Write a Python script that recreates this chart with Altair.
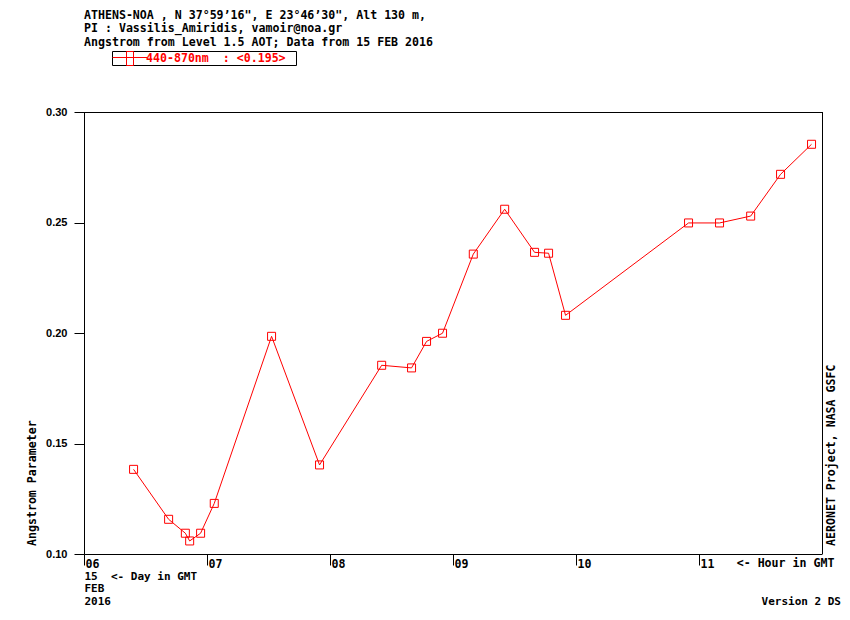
import altair as alt
import pandas as pd

# ---- data ----
hours = [6.403, 6.688, 6.824, 6.859, 6.948, 7.059, 7.525, 7.915, 8.420, 8.663,
         8.785, 8.915, 9.165, 9.420, 9.663, 9.777, 9.915, 10.915, 11.167, 11.420,
         11.663, 11.915]
angstrom = [0.1383, 0.1157, 0.1094, 0.1059, 0.1094, 0.1229, 0.1985, 0.1403, 0.1854, 0.1842,
            0.1962, 0.1999, 0.2357, 0.2560, 0.2365, 0.2361, 0.2080, 0.2498, 0.2498, 0.2529,
            0.2718, 0.2854]
hour_ticks = [6, 7, 8, 9, 10, 11]
y_ticks = [0.10, 0.15, 0.20, 0.25, 0.30]
series_name = "440-870nm"
series_mean = "0.195"
header_lines = [
    "ATHENS-NOA , N 37\u00b059\u201916\", E 23\u00b046\u201930\", Alt 130 m,",
    "PI : Vassilis_Amiridis, vamoir@noa.gr",
    "Angstrom from Level 1.5 AOT; Data from 15 FEB 2016",
]
day_lines = ["15 \u00a0<- Day in GMT", "FEB", "2016"]

df = pd.DataFrame({"hour": hours, "angstrom": angstrom})

MONO = "DejaVu Sans Mono"
YFONT = "Liberation Sans"
FS = 11.6
RED = "#ff0000"

# plot area geometry (page pixels), svg origin is page (8, 8)
OX, OY = 84, 112
W, H = 738, 442
TOTAL_W, TOTAL_H = 834, 600


def P(x, y):
    return x - OX, y - OY


x_enc = alt.X(
    "hour:Q",
    scale=alt.Scale(domain=[6, 12], nice=False, zero=False),
    axis=alt.Axis(
        values=hour_ticks, title=None,
        labelExpr="(datum.value < 10 ? '0' : '') + datum.value",
        tickSize=11, labelPadding=-7, labelAlign="left", labelBaseline="top",
        labelOffset=1, labelFont=MONO, labelFontWeight="bold", labelFontSize=FS,
        labelOverlap=False, labelFlush=False,
    ),
)
y_enc = alt.Y(
    "angstrom:Q",
    scale=alt.Scale(domain=[0.10, 0.30], nice=False, zero=False),
    axis=alt.Axis(
        values=y_ticks, format=".2f", title=None, tickSize=10, labelPadding=7,
        labelFont=YFONT, labelFontWeight="bold", labelFontSize=11,
        labelOverlap=False, labelFlush=False,
    ),
)

base = alt.Chart(df)
line = base.mark_line(color=RED, strokeWidth=1).encode(x=x_enc, y=y_enc)
pts = base.mark_point(shape="square", filled=False, size=64, color=RED,
                      strokeWidth=1, opacity=1).encode(x="hour:Q", y="angstrom:Q")


def one():
    return pd.DataFrame({"k": [0]})


def label(txt, px, py, align="left", color="black", angle=0, baseline="alphabetic", size=FS):
    x, y = P(px, py)
    kw = dict(align=align, baseline=baseline, font=MONO, fontWeight="bold",
              fontSize=size, color=color)
    if angle:
        kw["angle"] = angle
    return alt.Chart(pd.DataFrame({"t": [txt]})).mark_text(**kw).encode(
        x=alt.value(x), y=alt.value(y), text="t:N")


def box(x1, y1, x2, y2, color):
    a, b = P(x1, y1)
    c, d = P(x2, y2)
    return alt.Chart(one()).mark_rect(fillOpacity=0, stroke=color, strokeWidth=1).encode(
        x=alt.value(a), x2=alt.value(c), y=alt.value(b), y2=alt.value(d))


layers = [line, pts]

# frame top & right
layers.append(alt.Chart(one()).mark_rule(color="black", strokeWidth=1).encode(
    x=alt.value(0), x2=alt.value(W + 1), y=alt.value(0.5)))
layers.append(alt.Chart(one()).mark_rule(color="black", strokeWidth=1).encode(
    x=alt.value(W + 0.5), y=alt.value(0), y2=alt.value(H)))

# header
for t, yy in zip(header_lines, [19.2, 32.4, 45.6]):
    layers.append(label(t, 84, yy))

# legend
layers.append(box(112.5, 51.5, 296.5, 65.5, "black"))
lx1, ly = P(112.5, 57.5)
lx2, _ = P(147, 57.5)
layers.append(alt.Chart(one()).mark_rule(color=RED, strokeWidth=1).encode(
    x=alt.value(lx1), x2=alt.value(lx2), y=alt.value(ly)))
layers.append(box(126.5, 51.5, 133.5, 65.5, RED))
layers.append(label(f"{series_name} \u00a0: <{series_mean}>", 146, 62.3, color=RED))

# axis titles / annotations
layers.append(label("Angstrom Parameter", 32.5, 546, angle=270, baseline="middle"))
layers.append(label("AERONET Project, NASA GSFC", 832, 546, angle=270, baseline="middle"))
layers.append(label("<- Hour in GMT", 736.7, 566.5))
for t, yy in zip(day_lines, [579.5, 592.0, 604.5]):
    layers.append(label(t, 84.5, yy, size=11))
layers.append(label("Version 2 DS", 841, 604.5, align="right", size=11))

chart = alt.layer(*layers).properties(
    width=W, height=H,
    autosize=alt.AutoSizeParams(type="none"),
    padding={"left": OX - 8, "top": OY - 8, "right": TOTAL_W - (OX - 8) - W,
             "bottom": TOTAL_H - (OY - 8) - H},
    background="white",
).configure_view(strokeWidth=0).configure_axis(
    grid=False, domainColor="black", tickColor="black", labelColor="black",
    domainWidth=1, tickWidth=1,
)

chart.save("out.html", embed_options={"renderer": "svg", "actions": False})
